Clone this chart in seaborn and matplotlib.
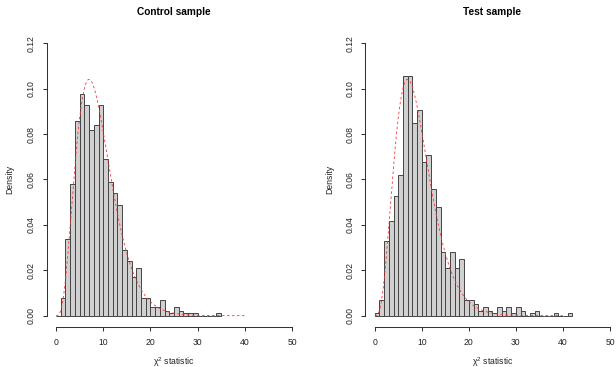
import math
import numpy as np
import pandas as pd
import matplotlib
matplotlib.use("Agg")
import matplotlib.pyplot as plt
import seaborn as sns

# Histogram counts per unit-width bin (n = 1000)
control_counts = [0, 8, 34, 58, 86, 98, 93, 82, 84, 93, 69, 59, 54, 49, 29, 24, 17, 21,
                  8, 8, 4, 4, 7, 2, 1, 4, 2, 1, 1, 1, 0, 0, 0, 0, 1]
test_counts = [1, 7, 33, 42, 53, 62, 106, 106, 85, 91, 68, 71, 56, 48, 28, 21, 28, 21,
               25, 7, 7, 5, 2, 4, 2, 1, 4, 2, 4, 1, 4, 2, 0, 1, 2, 0, 0, 0, 1, 0, 0, 1]
panel_titles = ["Control sample", "Test sample"]
x_ticks = [0, 10, 20, 30, 40, 50]
y_ticks = [0.00, 0.02, 0.04, 0.06, 0.08, 0.10, 0.12]

# theoretical reference curve: chi-square density, 9 degrees of freedom, drawn on [0, 40]
chi2_df = 9
curve_range = (0, 40)


def chi2_pdf(x, k):
    x = np.asarray(x, dtype=float)
    out = np.zeros_like(x)
    pos = x > 0
    out[pos] = x[pos] ** (k / 2 - 1) * np.exp(-x[pos] / 2) / (2 ** (k / 2) * math.gamma(k / 2))
    return out


sns.set_style("white")
plt.rcParams["font.family"] = ["Liberation Sans", "DejaVu Sans"]
plt.rcParams["mathtext.fontset"] = "custom"
plt.rcParams["mathtext.rm"] = "Liberation Sans"
plt.rcParams["mathtext.it"] = "Liberation Sans"

W, H = 616, 367
fig = plt.figure(figsize=(W / 100, H / 100), dpi=100)
fig.patch.set_facecolor("white")

# plot regions in pixels (left, right, top, bottom) and x of the "Density" label
regions = [(46.6, 301.4, 32.4, 326.6, 10), (365.3, 619.4, 32.4, 326.6, 330)]
base_fs = 6.2

for counts, title, (l, r, t, b, ylab_x) in zip([control_counts, test_counts], panel_titles, regions):
    ax = fig.add_axes([l / W, 1 - b / H, (r - l) / W, (b - t) / H])
    ax.set_facecolor("white")

    nbins = len(counts)
    df = pd.DataFrame({"chi2": np.arange(nbins) + 0.5, "n": counts})
    sns.histplot(data=df, x="chi2", weights="n", bins=nbins, binrange=(0, nbins),
                 stat="density", color="#d0d0d0", edgecolor="#444444",
                 linewidth=0.7, alpha=1, ax=ax)

    xs = np.linspace(curve_range[0], curve_range[1], 401)
    sns.lineplot(x=xs, y=chi2_pdf(xs, chi2_df), color="#ff3030", linewidth=0.6,
                 linestyle=(0, (3, 3)), ax=ax)

    ax.set_xlim(-2, 52)
    ax.set_ylim(-0.0048, 0.1248)
    ax.set_xticks(x_ticks)
    ax.set_yticks(y_ticks)
    ax.set_xticklabels([str(v) for v in x_ticks])
    ax.set_yticklabels([f"{v:.2f}" for v in y_ticks], rotation=90, va="center")
    ax.set_xlabel("")
    ax.set_ylabel("")

    for side in ["top", "right"]:
        ax.spines[side].set_visible(False)
    ax.spines["bottom"].set_bounds(0, 50)
    ax.spines["left"].set_bounds(0, 0.12)
    for side in ["bottom", "left"]:
        ax.spines[side].set_color("#333333")
        ax.spines[side].set_linewidth(0.75)
    ax.tick_params(axis="both", direction="out", length=3, width=0.75, color="#333333",
                   labelsize=base_fs, labelcolor="#222222", pad=5,
                   bottom=True, left=True)

    ax.text(0.5, 1.0693, title, transform=ax.transAxes, ha="center", va="center",
            fontsize=7.3, fontweight="bold", color="black")
    ax.text(0.5, -0.1193, r"$\chi^2$ statistic", transform=ax.transAxes,
            ha="center", va="center", fontsize=base_fs, color="#222222")
    ax.text((ylab_x - l) / (r - l), 0.5, "Density", transform=ax.transAxes, rotation=90,
            ha="center", va="center", fontsize=base_fs, color="#222222")

fig.savefig("out.png", dpi=100, facecolor="white")
